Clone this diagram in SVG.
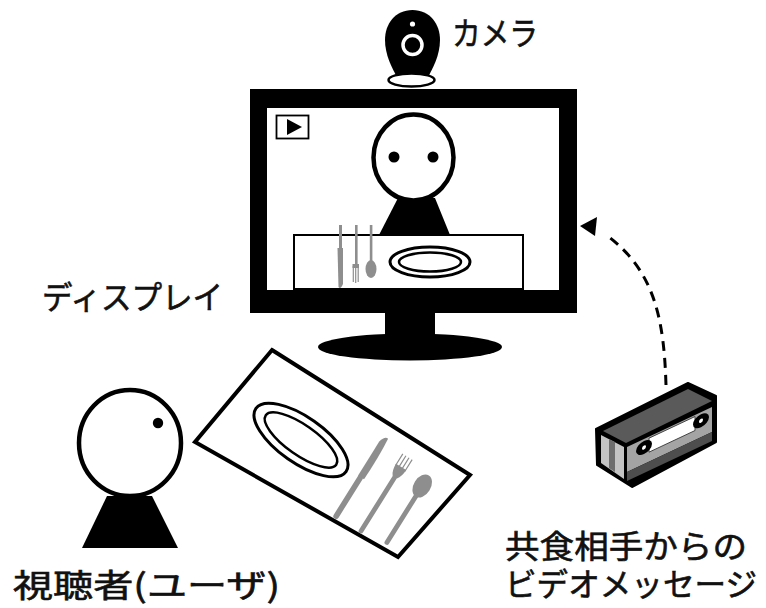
<svg xmlns="http://www.w3.org/2000/svg" width="766" height="608" viewBox="0 0 766 608">
  <defs>
    <style>
      .label { font-family: "Noto Sans CJK JP", "Noto Sans", sans-serif; font-size: 32px; fill: #111; stroke: #111; stroke-width: 0.6; }
      .outline { fill: #fff; stroke: #000; stroke-width: 4.5; }
      .ink { fill: #000; }
      .steel { fill: #8e8e8e; stroke: none; }
      .tine { stroke: #8e8e8e; stroke-width: 1.2; fill: none; }
      .dish { fill: #fff; stroke: #000; }
    </style>
  </defs>

  <rect width="766" height="608" fill="#fff"/>

  <!-- webcam on top of the display -->
  <g id="camera">
    <path class="ink" d="M412.5 10 C430 10 440 24 440 40 C440 55 433 68 428 77 L397 77 C392 68 385 55 385 40 C385 24 395 10 412.5 10 Z"/>
    <circle cx="412.5" cy="45" r="9.5" fill="none" stroke="#fff" stroke-width="3.5"/>
    <circle cx="412.5" cy="24" r="2.6" fill="#fff"/>
    <ellipse cx="411.5" cy="80" rx="23" ry="6.5" fill="#fff" stroke="#000" stroke-width="2.5"/>
    <text class="label" x="452" y="45" font-size="29" textLength="86" lengthAdjust="spacingAndGlyphs">カメラ</text>
  </g>

  <!-- display with a remote diner on screen -->
  <g id="display">
    <rect x="250" y="89" width="327" height="224" class="ink"/>
    <rect x="385" y="310" width="50" height="32" class="ink"/>
    <ellipse cx="410" cy="347" rx="92" ry="13.5" class="ink"/>
    <rect x="267" y="108" width="292" height="182" fill="#fff"/>

    <!-- play indicator -->
    <rect x="276.5" y="115.5" width="32" height="23" fill="#fff" stroke="#000" stroke-width="1.8"/>
    <polygon points="287,119 302,127 287,135" class="ink"/>

    <!-- remote diner -->
    <polygon points="398,198 435,198 450,235 379,235" class="ink"/>
    <ellipse cx="413.5" cy="157.5" rx="40" ry="43" class="outline"/>
    <circle cx="394" cy="157" r="5.5" class="ink"/>
    <circle cx="433" cy="157" r="5.5" class="ink"/>

    <!-- table -->
    <rect x="294" y="235" width="229" height="54" fill="#fff" stroke="#000" stroke-width="2"/>

    <!-- cutlery standing on the table -->
    <rect x="339" y="225" width="3" height="24" class="steel"/>
    <path d="M337.5 248 L343 248 L343 284 Q340.5 290 338.5 287 Z" class="steel"/>
    <rect x="355" y="225" width="2.6" height="40" class="steel"/>
    <path d="M352.5 264 L359 264 L359 268 L352.5 268 Z" class="steel"/>
    <path d="M353.3 266 V282 M355.7 266 V283 M358.2 266 V282" class="tine"/>
    <rect x="369.8" y="225" width="2.6" height="38" class="steel"/>
    <ellipse cx="371" cy="269" rx="5.5" ry="9" class="steel"/>

    <!-- plate -->
    <ellipse cx="430" cy="262" rx="40" ry="15" class="dish" stroke-width="3"/>
    <ellipse cx="430" cy="262" rx="31" ry="9.5" class="dish" stroke-width="2.5"/>

    <text class="label" x="42" y="309" font-size="31" textLength="181" lengthAdjust="spacingAndGlyphs">ディスプレイ</text>
  </g>

  <!-- place setting in front of the viewer -->
  <g id="tray">
    <polygon points="272,350 470,475 398,557 195,442" fill="#fff" stroke="#000" stroke-width="4" stroke-linejoin="miter"/>
    <g transform="rotate(35 301 440)">
      <ellipse cx="301" cy="440" rx="55" ry="23" class="dish" stroke-width="3"/>
      <ellipse cx="301" cy="440" rx="43" ry="15" class="dish" stroke-width="2.5"/>
    </g>
    <g transform="translate(385 438) rotate(32)">
      <!-- knife -->
      <path d="M-3 46 L-3 6 Q-1 -2 3 -1 Q5 20 4 46 Z" class="steel"/>
      <rect x="-2.8" y="44" width="5.6" height="51" rx="2.8" class="steel"/>
      <!-- fork -->
      <path d="M23.5 4 V18 M27.2 4 V18 M30.8 4 V18 M34.5 4 V18" class="tine" stroke-width="1.6"/>
      <path d="M23 16 L35 16 Q35 24 31.5 28 L26.5 28 Q23 24 23 16 Z" class="steel"/>
      <rect x="26.6" y="26" width="4.8" height="68" rx="2.4" class="steel"/>
      <!-- spoon -->
      <ellipse cx="57" cy="21" rx="8.5" ry="12.5" class="steel"/>
      <rect x="54.6" y="30" width="4.8" height="60" rx="2.4" class="steel"/>
    </g>
  </g>

  <!-- viewer -->
  <g id="viewer">
    <polygon points="107,496 152,496 178,548 82,548" class="ink"/>
    <ellipse cx="130" cy="443" rx="51" ry="53" class="outline"/>
    <circle cx="158" cy="423" r="5.2" class="ink"/>
    <text class="label" x="13" y="597" textLength="267" lengthAdjust="spacingAndGlyphs">視聴者(ユーザ)</text>
  </g>

  <!-- recorded video message cassette -->
  <g id="video-message">
    <polygon points="596,429 688,383 716,396 716,442 632,487 597,465" fill="#000" stroke="#000" stroke-width="2" stroke-linejoin="round"/>
    <polygon points="603,431 688,389 712,401 626,443" fill="#5a5a5a"/>
    <polygon points="601,435 624,447 624,479 601,463" fill="#c4c4c4"/>
    <polygon points="609,439 615,442 615,472 609,468" fill="#6e6e6e"/>
    <g transform="matrix(1 -0.47 0 1 627 446)">
      <rect x="0" y="1" width="85" height="25" fill="#a4a4a4"/>
      <rect x="0" y="26" width="85" height="9" fill="#4e4e4e"/>
      <rect x="22" y="2.5" width="46" height="14" fill="#fff" stroke="#333" stroke-width="0.8"/>
      <ellipse cx="17" cy="9.5" rx="8" ry="6.5" fill="#000"/>
      <ellipse cx="74" cy="9.5" rx="8" ry="6.5" fill="#000"/>
      <circle cx="17" cy="9.5" r="2" fill="#fff"/>
      <circle cx="74" cy="9.5" r="2" fill="#fff"/>
    </g>
    <text class="label">
      <tspan x="505" y="558" textLength="242" lengthAdjust="spacingAndGlyphs">共食相手からの</tspan>
      <tspan x="505" y="596" textLength="252" lengthAdjust="spacingAndGlyphs">ビデオメッセージ</tspan>
    </text>
  </g>

  <!-- playback path from the message to the display -->
  <g id="connectors">
    <path d="M666 385 C664 320 655 270 605 234" fill="none" stroke="#000" stroke-width="3" stroke-dasharray="10 7"/>
    <polygon points="580,226 597,217 595,236" fill="#000"/>
  </g>
</svg>
